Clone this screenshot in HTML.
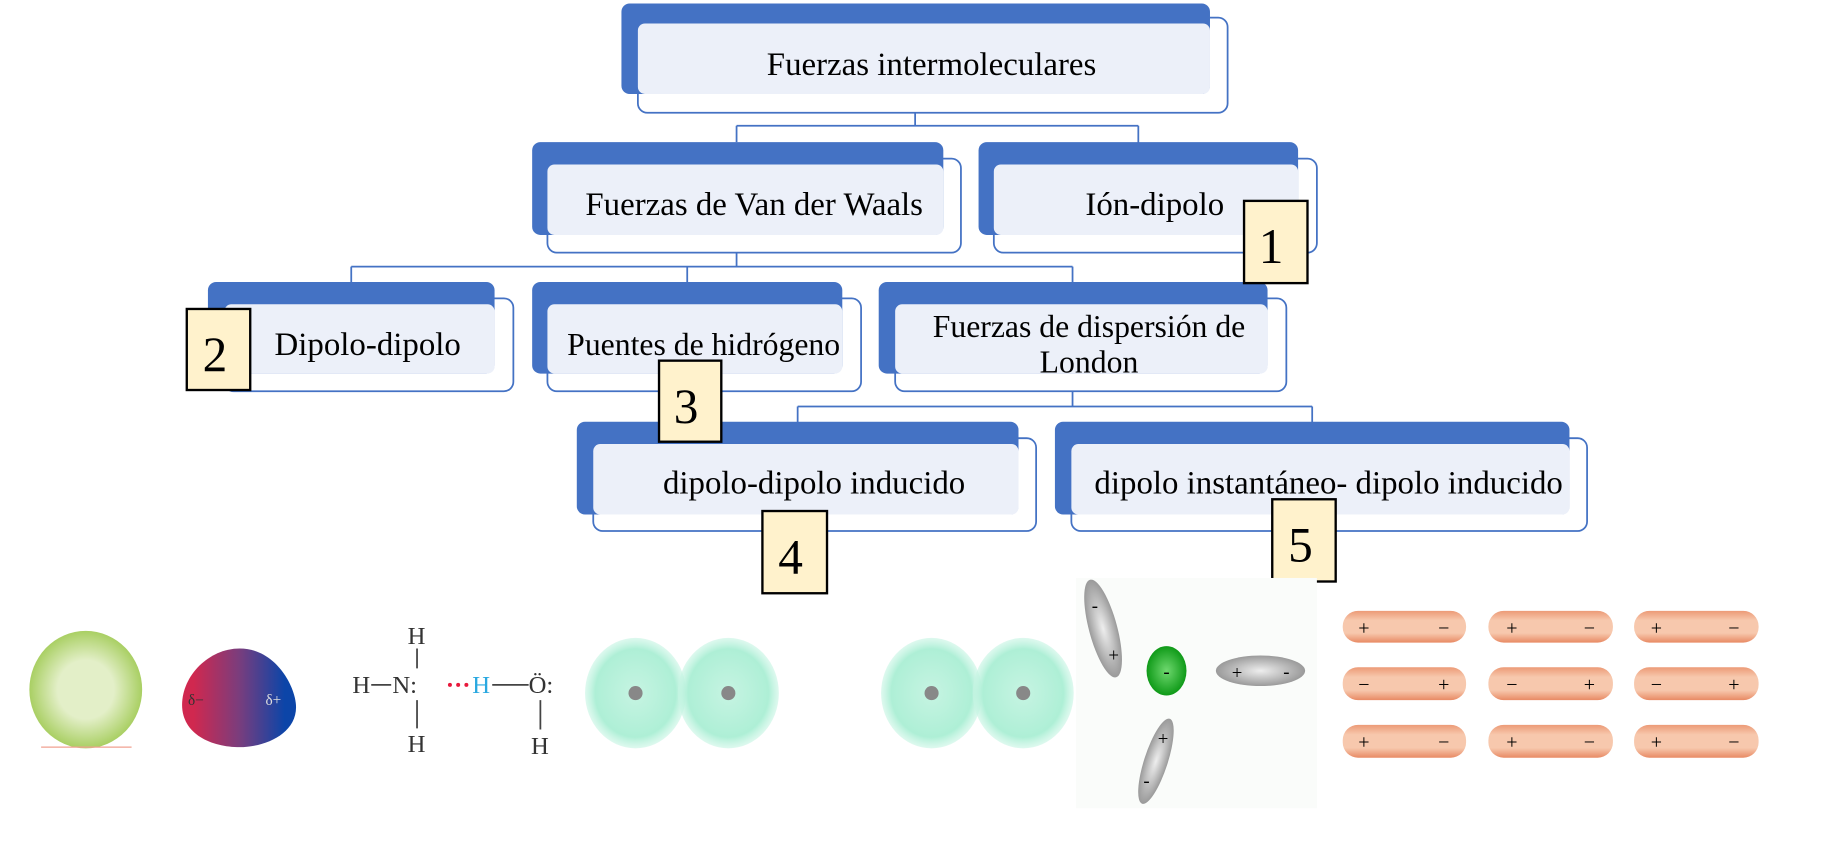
<!DOCTYPE html>
<html><head><meta charset="utf-8"><style>
html,body{margin:0;padding:0;background:#fff;width:1842px;height:847px;overflow:hidden}
svg{display:block}
text{font-family:"Liberation Serif",serif;fill:#000}
</style></head><body>
<svg width="1842" height="847" viewBox="0 0 1568 721" preserveAspectRatio="none" xmlns="http://www.w3.org/2000/svg">
<defs>
<radialGradient id="gg" cx="50%" cy="50%" r="50%"><stop offset="0.5" stop-color="#e3efc8"/><stop offset="1" stop-color="#a9cf63"/></radialGradient>
<linearGradient id="rb" x1="0" x2="1" y1="0" y2="0"><stop offset="0.1" stop-color="#d0284f"/><stop offset="0.5" stop-color="#7a3d7d"/><stop offset="0.9" stop-color="#0c45a8"/></linearGradient>
<radialGradient id="tl" cx="50%" cy="50%" r="50%"><stop offset="0" stop-color="#c6f4e2"/><stop offset="0.8" stop-color="#aeefd6"/><stop offset="1" stop-color="#c8f5e4" stop-opacity="0.6"/></radialGradient>
<radialGradient id="gr" cx="50%" cy="50%" r="50%"><stop offset="0" stop-color="#eeeeee"/><stop offset="1" stop-color="#9a9a9a"/></radialGradient>
<radialGradient id="grn" cx="50%" cy="50%" r="50%"><stop offset="0" stop-color="#6fd86f"/><stop offset="1" stop-color="#0f9a18"/></radialGradient>
<linearGradient id="rod" x1="0" x2="0" y1="0" y2="1"><stop offset="0" stop-color="#ec9a76"/><stop offset="0.3" stop-color="#f7c8ad"/><stop offset="0.7" stop-color="#f7c8ad"/><stop offset="1" stop-color="#e88a64"/></linearGradient>
</defs>
<g stroke="#4472c4" stroke-width="1.5" fill="none">
<path d="M779 96V107M627 107H969M627 107V121M969 107V135"/>
<path d="M627 215V227M299 227H913M299 227V240M585 227V254M913 227V254"/>
<path d="M913 333V346M679 346H1117M679 346V373M1117 346V373"/>
</g>
<g>
<rect x="543" y="15" width="502" height="81" rx="8" fill="#fff" stroke="#4472c4" stroke-width="1.5"/>
<rect x="529" y="3" width="501" height="77" rx="7" fill="#4472c4"/>
<rect x="543" y="20" width="487" height="60" rx="6" fill="#ecf0f9"/>
<text x="793" y="64" font-size="28" text-anchor="middle">Fuerzas intermoleculares</text>

<rect x="466" y="135" width="352" height="80" rx="8" fill="#fff" stroke="#4472c4" stroke-width="1.5"/>
<rect x="453" y="121" width="350" height="79" rx="7" fill="#4472c4"/>
<rect x="466" y="140" width="337" height="60" rx="6" fill="#ecf0f9"/>
<text x="642" y="183" font-size="28" text-anchor="middle">Fuerzas de Van der Waals</text>

<rect x="846" y="135" width="275" height="80" rx="8" fill="#fff" stroke="#4472c4" stroke-width="1.5"/>
<rect x="833" y="121" width="272" height="79" rx="7" fill="#4472c4"/>
<rect x="846" y="140" width="259" height="60" rx="6" fill="#ecf0f9"/>
<text x="983" y="183" font-size="28" text-anchor="middle">Ión-dipolo</text>

<rect x="191" y="254" width="246" height="79" rx="8" fill="#fff" stroke="#4472c4" stroke-width="1.5"/>
<rect x="177" y="240" width="244" height="78" rx="7" fill="#4472c4"/>
<rect x="191" y="259" width="230" height="59" rx="6" fill="#ecf0f9"/>
<text x="313" y="302" font-size="28" text-anchor="middle">Dipolo-dipolo</text>

<rect x="466" y="254" width="267" height="79" rx="8" fill="#fff" stroke="#4472c4" stroke-width="1.5"/>
<rect x="453" y="240" width="264" height="78" rx="7" fill="#4472c4"/>
<rect x="466" y="259" width="251" height="59" rx="6" fill="#ecf0f9"/>
<text x="599" y="302" font-size="27" text-anchor="middle">Puentes de hidrógeno</text>

<rect x="762" y="254" width="333" height="79" rx="8" fill="#fff" stroke="#4472c4" stroke-width="1.5"/>
<rect x="748" y="240" width="331" height="78" rx="7" fill="#4472c4"/>
<rect x="762" y="259" width="317" height="59" rx="6" fill="#ecf0f9"/>
<text x="927" y="287" font-size="27" text-anchor="middle">Fuerzas de dispersión de</text>
<text x="927" y="317" font-size="27" text-anchor="middle">London</text>

<rect x="505" y="373" width="377" height="79" rx="8" fill="#fff" stroke="#4472c4" stroke-width="1.5"/>
<rect x="491" y="359" width="376" height="79" rx="7" fill="#4472c4"/>
<rect x="505" y="378" width="362" height="60" rx="6" fill="#ecf0f9"/>
<text x="693" y="420" font-size="28" text-anchor="middle">dipolo-dipolo inducido</text>

<rect x="912" y="373" width="439" height="79" rx="8" fill="#fff" stroke="#4472c4" stroke-width="1.5"/>
<rect x="898" y="359" width="438" height="79" rx="7" fill="#4472c4"/>
<rect x="912" y="378" width="424" height="60" rx="6" fill="#ecf0f9"/>
<text x="1131" y="420" font-size="28" text-anchor="middle">dipolo instantáneo- dipolo inducido</text>
</g>
<g fill="#fff2cc" stroke="#000" stroke-width="2">
<rect x="1059" y="171" width="54" height="70"/>
<rect x="159" y="263" width="54" height="69"/>
<rect x="561" y="307" width="53" height="69"/>
<rect x="649" y="435" width="55" height="70"/>
<rect x="1083" y="425" width="54" height="70"/>
</g>
<g font-size="42" text-anchor="middle">
<text x="1082" y="224">1</text>
<text x="183" y="316">2</text>
<text x="584" y="360">3</text>
<text x="673" y="488">4</text>
<text x="1107" y="478">5</text>
</g>
<ellipse cx="73" cy="587" rx="48" ry="50" fill="url(#gg)"/>
<line x1="35" y1="636" x2="112" y2="636" stroke="#f0a090" stroke-width="1"/>
<path d="M204 552 C235 552 252 585 252 602 C252 625 225 636 204 636 C180 636 155 625 155 600 C155 575 178 552 204 552Z" fill="url(#rb)"/>
<text x="160" y="600" font-size="13" style="fill:#333">δ−</text>
<text x="226" y="600" font-size="13" style="fill:#ddd">δ+</text>
<g font-size="21">
<text x="347" y="548" style="fill:#333">H</text>
<text x="300" y="590" style="fill:#333">H</text>
<text x="334" y="590" style="fill:#333">N:</text>
<text x="402" y="590" style="fill:#29a8e0">H</text>
<text x="450" y="590" style="fill:#333">Ö:</text>
<text x="347" y="640" style="fill:#333">H</text>
<text x="452" y="642" style="fill:#333">H</text>
</g>
<g stroke="#444" stroke-width="1.5"><path d="M316 583H333M355 552V569M355 596V620M419 583H450M460 596V621"/></g>
<g fill="#e8193c"><circle cx="383" cy="583" r="1.7"/><circle cx="390" cy="583" r="1.7"/><circle cx="397" cy="583" r="1.7"/></g>
<g fill="url(#tl)">
<ellipse cx="541" cy="590" rx="43" ry="47"/><ellipse cx="620" cy="590" rx="43" ry="47"/>
<ellipse cx="793" cy="590" rx="43" ry="47"/><ellipse cx="871" cy="590" rx="43" ry="47"/>
</g>
<g fill="#888"><circle cx="541" cy="590" r="6"/><circle cx="620" cy="590" r="6"/><circle cx="793" cy="590" r="6"/><circle cx="871" cy="590" r="6"/></g>
<rect x="916" y="492" width="205" height="196" fill="#fafcfa"/>
<ellipse cx="939" cy="535" rx="12" ry="43" transform="rotate(-15 939 535)" fill="url(#gr)"/>
<ellipse cx="984" cy="648" rx="10" ry="38" transform="rotate(18 984 648)" fill="url(#gr)"/>
<ellipse cx="1073" cy="571" rx="38" ry="13" fill="url(#gr)"/>
<ellipse cx="993" cy="571" rx="17" ry="21" fill="url(#grn)"/>
<g font-family="Liberation Sans" font-size="16" text-anchor="middle" style="fill:#111">
<text x="993" y="577">-</text><text x="1053" y="578">+</text><text x="1095" y="577">-</text>
<text x="932" y="521">-</text><text x="948" y="563">+</text><text x="990" y="634">+</text><text x="976" y="670">-</text>
</g>
<g>
<rect x="1143" y="520" width="105" height="27" rx="13" fill="url(#rod)"/><rect x="1267" y="520" width="106" height="27" rx="13" fill="url(#rod)"/><rect x="1391" y="520" width="106" height="27" rx="13" fill="url(#rod)"/>
<rect x="1143" y="568" width="105" height="28" rx="13" fill="url(#rod)"/><rect x="1267" y="568" width="106" height="28" rx="13" fill="url(#rod)"/><rect x="1391" y="568" width="106" height="28" rx="13" fill="url(#rod)"/>
<rect x="1143" y="617" width="105" height="28" rx="13" fill="url(#rod)"/><rect x="1267" y="617" width="106" height="28" rx="13" fill="url(#rod)"/><rect x="1391" y="617" width="106" height="28" rx="13" fill="url(#rod)"/>
</g>
<g font-family="Liberation Sans" font-size="17" text-anchor="middle" style="fill:#444">
<text x="1161" y="540">+</text><text x="1229" y="540">−</text><text x="1287" y="540">+</text><text x="1353" y="540">−</text><text x="1410" y="540">+</text><text x="1476" y="540">−</text>
<text x="1161" y="588">−</text><text x="1229" y="588">+</text><text x="1287" y="588">−</text><text x="1353" y="588">+</text><text x="1410" y="588">−</text><text x="1476" y="588">+</text>
<text x="1161" y="637">+</text><text x="1229" y="637">−</text><text x="1287" y="637">+</text><text x="1353" y="637">−</text><text x="1410" y="637">+</text><text x="1476" y="637">−</text>
</g>
</svg>
</body></html>
